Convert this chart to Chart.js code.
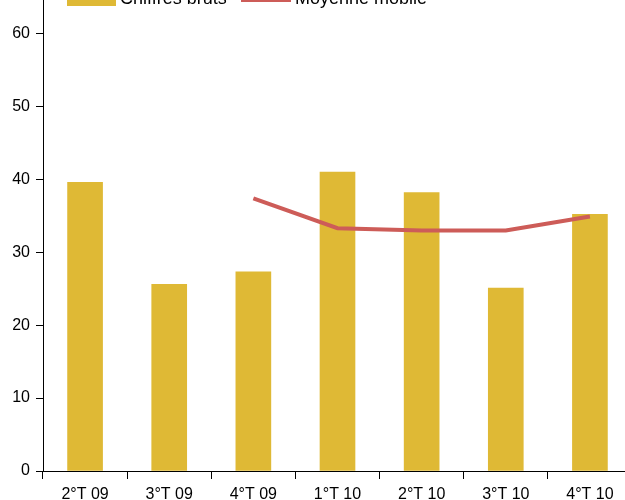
<!DOCTYPE html>
<html><head><meta charset="utf-8">
<script src="https://cdn.jsdelivr.net/npm/chart.js@4/dist/chart.umd.min.js"></script>
<style>
html,body{margin:0;padding:0;background:#fff;overflow:hidden;width:625px;height:500px;}
#wrap{position:absolute;left:0;top:-55px;width:632px;height:555px;}
</style></head>
<body>
<div id="wrap"><canvas id="c" width="632" height="555"></canvas></div>
<script>
const categories = ['2°T 09','3°T 09','4°T 09','1°T 10','2°T 10','3°T 10','4°T 10'];
const rawValues = [39.6, 25.6, 27.3, 41.0, 38.2, 25.1, 35.2];
const movingAvg = [null, null, 37.4, 33.3, 33.0, 33.0, 34.9];
const seriesNames = ['Chiffres bruts', 'Moyenne mobile'];
const yMin = 0, yMax = 70, yStep = 10;

const legendPlugin = {
  id: 'customLegend',
  afterDraw(chart) {
    const ctx = chart.ctx;
    const cy = 54;
    ctx.save();
    ctx.font = '18px "Liberation Sans", Arial, sans-serif';
    ctx.textBaseline = 'middle';
    ctx.fillStyle = chart.data.datasets[0].backgroundColor;
    ctx.fillRect(67, cy - 8, 49, 15);
    ctx.fillStyle = '#000';
    ctx.fillText(chart.data.datasets[0].label, 120, cy);
    ctx.strokeStyle = chart.data.datasets[1].borderColor;
    ctx.lineWidth = 4;
    ctx.beginPath(); ctx.moveTo(241, cy + 1); ctx.lineTo(291, cy + 1); ctx.stroke();
    ctx.fillText(chart.data.datasets[1].label, 295, cy);
    ctx.restore();
  }
};

new Chart(document.getElementById('c'), {
  data: {
    labels: categories,
    datasets: [
      { type: 'bar', label: seriesNames[0], data: rawValues, backgroundColor: '#DFB935',
        barThickness: 35, order: 2 },
      { type: 'line', label: seriesNames[1], data: movingAvg, borderColor: '#CD5C58',
        borderWidth: 4, pointRadius: 0, tension: 0, fill: false, order: 1 }
    ]
  },
  options: {
    responsive: false, animation: false, devicePixelRatio: 1,
    layout: { padding: 0 },
    plugins: { legend: { display: false }, tooltip: { enabled: false } },
    scales: {
      x: {
        grid: { drawOnChartArea: false, tickLength: 8, color: '#000', offset: true },
        border: { color: '#000', width: 1 },
        ticks: { color: '#000', font: { family: '"Liberation Sans", Arial, sans-serif', size: 16 }, padding: 6, maxRotation: 0, autoSkip: false },
        afterFit(s) { s.height = 29; }
      },
      y: {
        min: yMin, max: yMax,
        grid: { drawOnChartArea: false, tickLength: 7, color: '#000' },
        border: { color: '#000', width: 1 },
        ticks: { stepSize: yStep, color: '#000', font: { family: '"Liberation Sans", Arial, sans-serif', size: 16 }, padding: 6 },
        afterFit(s) { s.width = 43; }
      }
    }
  },
  plugins: [legendPlugin]
});
</script>
</body></html>
